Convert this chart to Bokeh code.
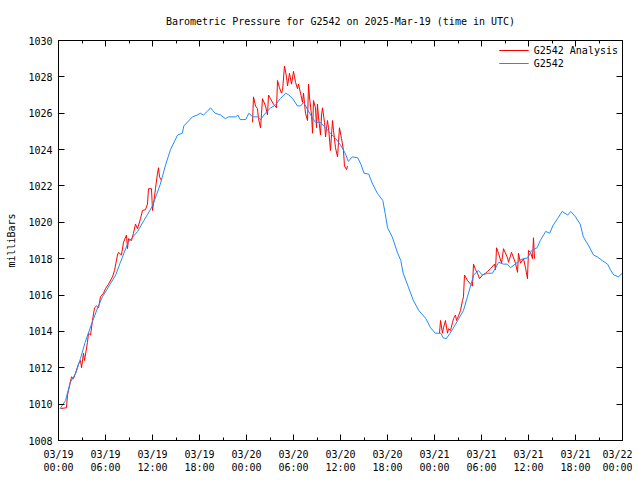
from bokeh.plotting import figure
from bokeh.models import (ColumnDataSource, Range1d, FixedTicker, LinearAxis,
                          Legend, LegendItem)
from bokeh.embed import file_html
from bokeh.resources import INLINE

# ---- data (hours since 2025-03-19 00:00 UTC, pressure in mb) ----
g2542_hours = [0.2, 0.9, 1.5, 2.2, 2.8, 3.4, 4.3, 5.0, 5.6, 6.6, 7.3, 7.9, 8.9, 10.1,
               10.9, 12.0, 13.0, 13.7, 14.3, 15.2, 15.8, 16.0, 17.1, 17.7, 18.1, 18.5,
               19.0, 19.4, 20.0, 20.7, 21.3, 21.7, 22.6, 22.9, 23.2, 23.9, 24.3, 24.8,
               25.4, 25.8, 26.4, 27.1, 27.7, 28.3, 29.0, 29.4, 29.9, 30.5, 30.9, 31.3,
               31.8, 32.2, 32.8, 33.4, 34.1, 34.7, 35.4, 36.0, 36.6, 37.0, 37.5, 38.2,
               38.6, 39.0, 39.6, 40.1, 40.7, 41.4, 41.7, 42.0, 42.6, 43.3, 43.7, 44.0,
               44.7, 45.3, 46.0, 46.9, 47.5, 48.1, 48.8, 49.1, 49.5, 50.0, 50.7, 51.1,
               51.7, 52.2, 52.6, 53.0, 53.6, 54.1, 54.8, 55.4, 55.8, 56.2, 56.8, 57.3,
               57.7, 58.3, 59.0, 59.9, 60.4, 61.1, 61.5, 62.2, 62.7, 63.1, 63.7, 64.3,
               65.0, 65.4, 66.0, 66.6, 67.0, 67.7, 68.3, 68.8, 69.4, 70.1, 70.5, 70.9,
               71.5, 71.7, 72.0]
g2542_mb = [1009.75, 1010.2, 1011.2, 1011.7, 1012.5, 1013.4, 1014.5, 1015.3, 1015.9,
            1016.6, 1017.1, 1017.8, 1018.9, 1019.5, 1020.1, 1020.9, 1022.1, 1023.2,
            1024.0, 1024.8, 1024.9, 1025.3, 1025.8, 1025.9, 1026.0, 1025.9, 1026.1,
            1026.3, 1026.0, 1025.9, 1025.7, 1025.8, 1025.8, 1025.9, 1025.65, 1025.65,
            1026.0, 1025.8, 1025.8, 1025.65, 1026.0, 1026.3, 1026.45, 1026.8, 1027.1,
            1027.0, 1026.8, 1026.4, 1026.4, 1026.6, 1026.2, 1025.9, 1025.5, 1025.5,
            1025.2, 1024.9, 1024.6, 1024.25, 1023.8, 1023.35, 1023.6, 1023.55, 1023.2,
            1022.7, 1022.65, 1022.1, 1021.6, 1021.2, 1020.5, 1019.7, 1019.2, 1018.3,
            1017.9, 1017.2, 1016.4, 1015.7, 1015.15, 1014.7, 1014.2, 1013.9, 1013.9,
            1013.65, 1013.6, 1013.9, 1014.4, 1014.7, 1015.15, 1015.9, 1016.5, 1017.1,
            1017.35, 1017.1, 1017.2, 1017.2, 1017.5, 1017.8, 1017.7, 1017.7, 1017.5,
            1017.7, 1017.95, 1018.05, 1018.45, 1018.6, 1019.0, 1019.5, 1019.4, 1019.8,
            1020.2, 1020.6, 1020.4, 1020.6, 1020.3, 1019.9, 1019.2, 1018.7, 1018.2,
            1018.1, 1017.9, 1017.7, 1017.35, 1017.1, 1017.0, 1017.1, 1017.2]

nan = float("nan")
analysis_hours = [0.26, 1.02, 1.15, 1.28, 1.66, 1.91, 2.17, 2.55, 2.81, 2.94, 3.19, 3.32,
                  3.70, 3.83, 4.09, 4.34, 4.60, 4.85, 5.11, 5.36, 5.74, 6.00, 6.38, 6.89,
                  7.15, 7.53, 7.66, 8.04, 8.30, 8.68, 8.81, 8.94, 9.32, 9.57, 9.83, 10.09,
                  10.47, 10.72, 11.11, 11.36, 11.49, 11.87, 12.00, 12.25, 12.38, 12.64,
                  12.77, 12.89, 13.15,
                  13.2,
                  24.77, 24.89, 25.15, 25.40, 25.53, 25.79, 25.92, 26.04, 26.43, 26.68,
                  26.81, 27.06, 27.45, 27.83, 27.96, 28.21, 28.47, 28.60, 28.85, 29.11,
                  29.24, 29.49, 29.75, 30.00, 30.26, 30.51, 30.64, 30.90, 31.15, 31.28,
                  31.53, 31.79, 31.92, 32.04, 32.30, 32.43, 32.55, 32.81, 32.94, 33.06,
                  33.19, 33.45, 33.58, 33.70, 33.96, 34.09, 34.34, 34.47, 34.72, 34.98,
                  35.11, 35.36, 35.62, 35.87, 36.13, 36.38, 36.51, 36.77, 36.89,
                  37.0,
                  48.64, 48.77, 49.02, 49.15, 49.40, 49.66, 49.79, 50.04, 50.30, 50.43,
                  50.68, 50.81, 51.06, 51.32, 51.57, 51.70, 51.83, 52.21, 52.60, 52.85,
                  52.98, 53.23, 53.49, 53.75, 54.13, 54.51, 54.77, 55.15, 55.66, 55.79,
                  55.92, 56.17, 56.56, 56.81, 57.32, 57.45, 57.83, 58.09, 58.34, 58.60,
                  58.72, 58.98, 59.36, 59.62, 59.87, 60.00, 60.26, 60.51, 60.64, 60.77]
analysis_mb = [1009.76, 1009.8, 1010.5, 1010.75, 1011.5, 1011.4, 1011.7, 1012.2, 1012.4,
               1012.0, 1012.8, 1012.4, 1013.4, 1013.9, 1013.8, 1014.6, 1015.3, 1015.4,
               1015.3, 1015.9, 1016.1, 1016.35, 1016.6, 1017.0, 1017.35, 1018.2, 1018.35,
               1018.2, 1018.9, 1019.3, 1018.55, 1019.1, 1019.0, 1019.4, 1019.9, 1019.65,
               1020.2, 1020.65, 1020.7, 1021.0, 1021.85, 1021.85, 1020.65, 1021.4,
               1021.85, 1022.7, 1023.0, 1022.5, 1022.3,
               nan,
               1025.5, 1026.9, 1026.4, 1026.25, 1025.7, 1025.2, 1026.0, 1026.8, 1026.4,
               1025.9, 1027.0, 1026.8, 1026.5, 1026.3, 1027.8, 1027.4, 1027.1, 1027.25,
               1028.6, 1028.0, 1027.5, 1028.2, 1027.6, 1028.3, 1027.7, 1027.35, 1027.6,
               1027.1, 1026.6, 1027.1, 1026.0, 1025.6, 1027.6, 1026.9, 1025.9, 1024.9,
               1026.7, 1026.3, 1025.2, 1026.5, 1025.8, 1024.8, 1025.9, 1026.3, 1025.5,
               1024.7, 1025.6, 1025.2, 1023.95, 1025.6, 1025.05, 1024.1, 1023.6, 1025.2,
               1024.6, 1023.95, 1023.1, 1022.9, 1023.1,
               nan,
               1013.9, 1014.6, 1013.9, 1014.2, 1014.6, 1013.9, 1014.15, 1014.05, 1014.5,
               1014.7, 1014.9, 1014.6, 1014.85, 1015.15, 1015.7, 1015.9, 1017.1, 1016.8,
               1016.6, 1016.5, 1017.7, 1017.4, 1017.2, 1016.9, 1017.1, 1017.2, 1017.3,
               1017.45, 1017.7, 1017.4, 1018.6, 1018.3, 1017.75, 1018.55, 1018.05, 1017.8,
               1018.35, 1018.05, 1017.75, 1017.25, 1018.3, 1017.75, 1018.0, 1017.5,
               1016.9, 1018.45, 1018.35, 1018.0, 1019.15, 1018.0]

x_tick_hours = [0, 6, 12, 18, 24, 30, 36, 42, 48, 54, 60, 66, 72]
x_tick_labels = ["03/19\n00:00", "03/19\n06:00", "03/19\n12:00", "03/19\n18:00",
                 "03/20\n00:00", "03/20\n06:00", "03/20\n12:00", "03/20\n18:00",
                 "03/21\n00:00", "03/21\n06:00", "03/21\n12:00", "03/21\n18:00",
                 "03/22\n00:00"]
x_minor_hours = [3, 9, 15, 21, 27, 33, 39, 45, 51, 57, 63, 69]
y_ticks = [1008, 1010, 1012, 1014, 1016, 1018, 1020, 1022, 1024, 1026, 1028, 1030]

FONT = "DejaVu Sans Mono"
FS = "10px"

p = figure(width=632, height=476, output_backend="svg", toolbar_location=None,
           x_range=Range1d(0, 72), y_range=Range1d(1008, 1030),
           min_border_left=58, min_border_right=10, min_border_top=40,
           min_border_bottom=36,
           title="Barometric Pressure for G2542 on 2025-Mar-19 (time in UTC)")
p.title.align = "center"
p.title.text_font = FONT
p.title.text_font_size = FS
p.title.text_font_style = "normal"
p.title.text_color = "black"
p.title.vertical_align = "top"
p.title.standoff = 24
p.xgrid.visible = False
p.ygrid.visible = False
p.outline_line_color = "black"
p.outline_line_width = 1
p.background_fill_color = "white"
p.border_fill_color = "white"

xticker = FixedTicker(ticks=x_tick_hours, minor_ticks=x_minor_hours)
yticker = FixedTicker(ticks=y_ticks)

def style_axis(ax):
    ax.axis_line_color = "black"
    ax.major_tick_in = 6
    ax.major_tick_out = 0
    ax.minor_tick_in = 3
    ax.minor_tick_out = 0
    ax.major_tick_line_color = "black"
    ax.minor_tick_line_color = "black"
    ax.major_label_text_font = FONT
    ax.major_label_text_font_size = FS
    ax.major_label_text_color = "black"
    ax.axis_label_text_font = FONT
    ax.axis_label_text_font_size = FS
    ax.axis_label_text_font_style = "normal"
    ax.axis_label_text_color = "black"

xa = p.xaxis[0]
xa.ticker = xticker
xa.major_label_overrides = {h: s for h, s in zip(x_tick_hours, x_tick_labels)}
style_axis(xa)
xa.major_label_standoff = 8

ya = p.yaxis[0]
ya.ticker = yticker
ya.axis_label = "milliBars"
style_axis(ya)
ya.minor_tick_line_color = None
ya.major_label_standoff = 6
ya.axis_label_standoff = 8

# mirrored ticks on top and right (no labels)
top = LinearAxis(ticker=xticker)
style_axis(top)
top.major_label_overrides = {h: "" for h in x_tick_hours}
top.major_label_text_color = None
top.major_label_standoff = 0
p.add_layout(top, "above")
right = LinearAxis(ticker=yticker)
style_axis(right)
right.minor_tick_line_color = None
right.major_label_overrides = {v: "" for v in y_ticks}
right.major_label_text_color = None
right.major_label_standoff = 0
p.add_layout(right, "right")

src_a = ColumnDataSource(dict(x=analysis_hours, y=analysis_mb))
src_g = ColumnDataSource(dict(x=g2542_hours, y=g2542_mb))
r_a = p.line("x", "y", source=src_a, line_color="#ff0000", line_width=1)
r_g = p.line("x", "y", source=src_g, line_color="#1e8cff", line_width=1)

legend = Legend(items=[LegendItem(label="G2542 Analysis", renderers=[r_a]),
                       LegendItem(label="G2542", renderers=[r_g])],
                location="top_right")
legend.label_text_font = FONT
legend.label_text_font_size = FS
legend.label_text_color = "black"
legend.border_line_color = None
legend.background_fill_alpha = 0
legend.glyph_width = 30
legend.glyph_height = 12
legend.label_height = 12
legend.spacing = 1
legend.padding = 2
legend.margin = 4
p.add_layout(legend, "center")

open("out.html", "w").write(file_html(p, INLINE))
